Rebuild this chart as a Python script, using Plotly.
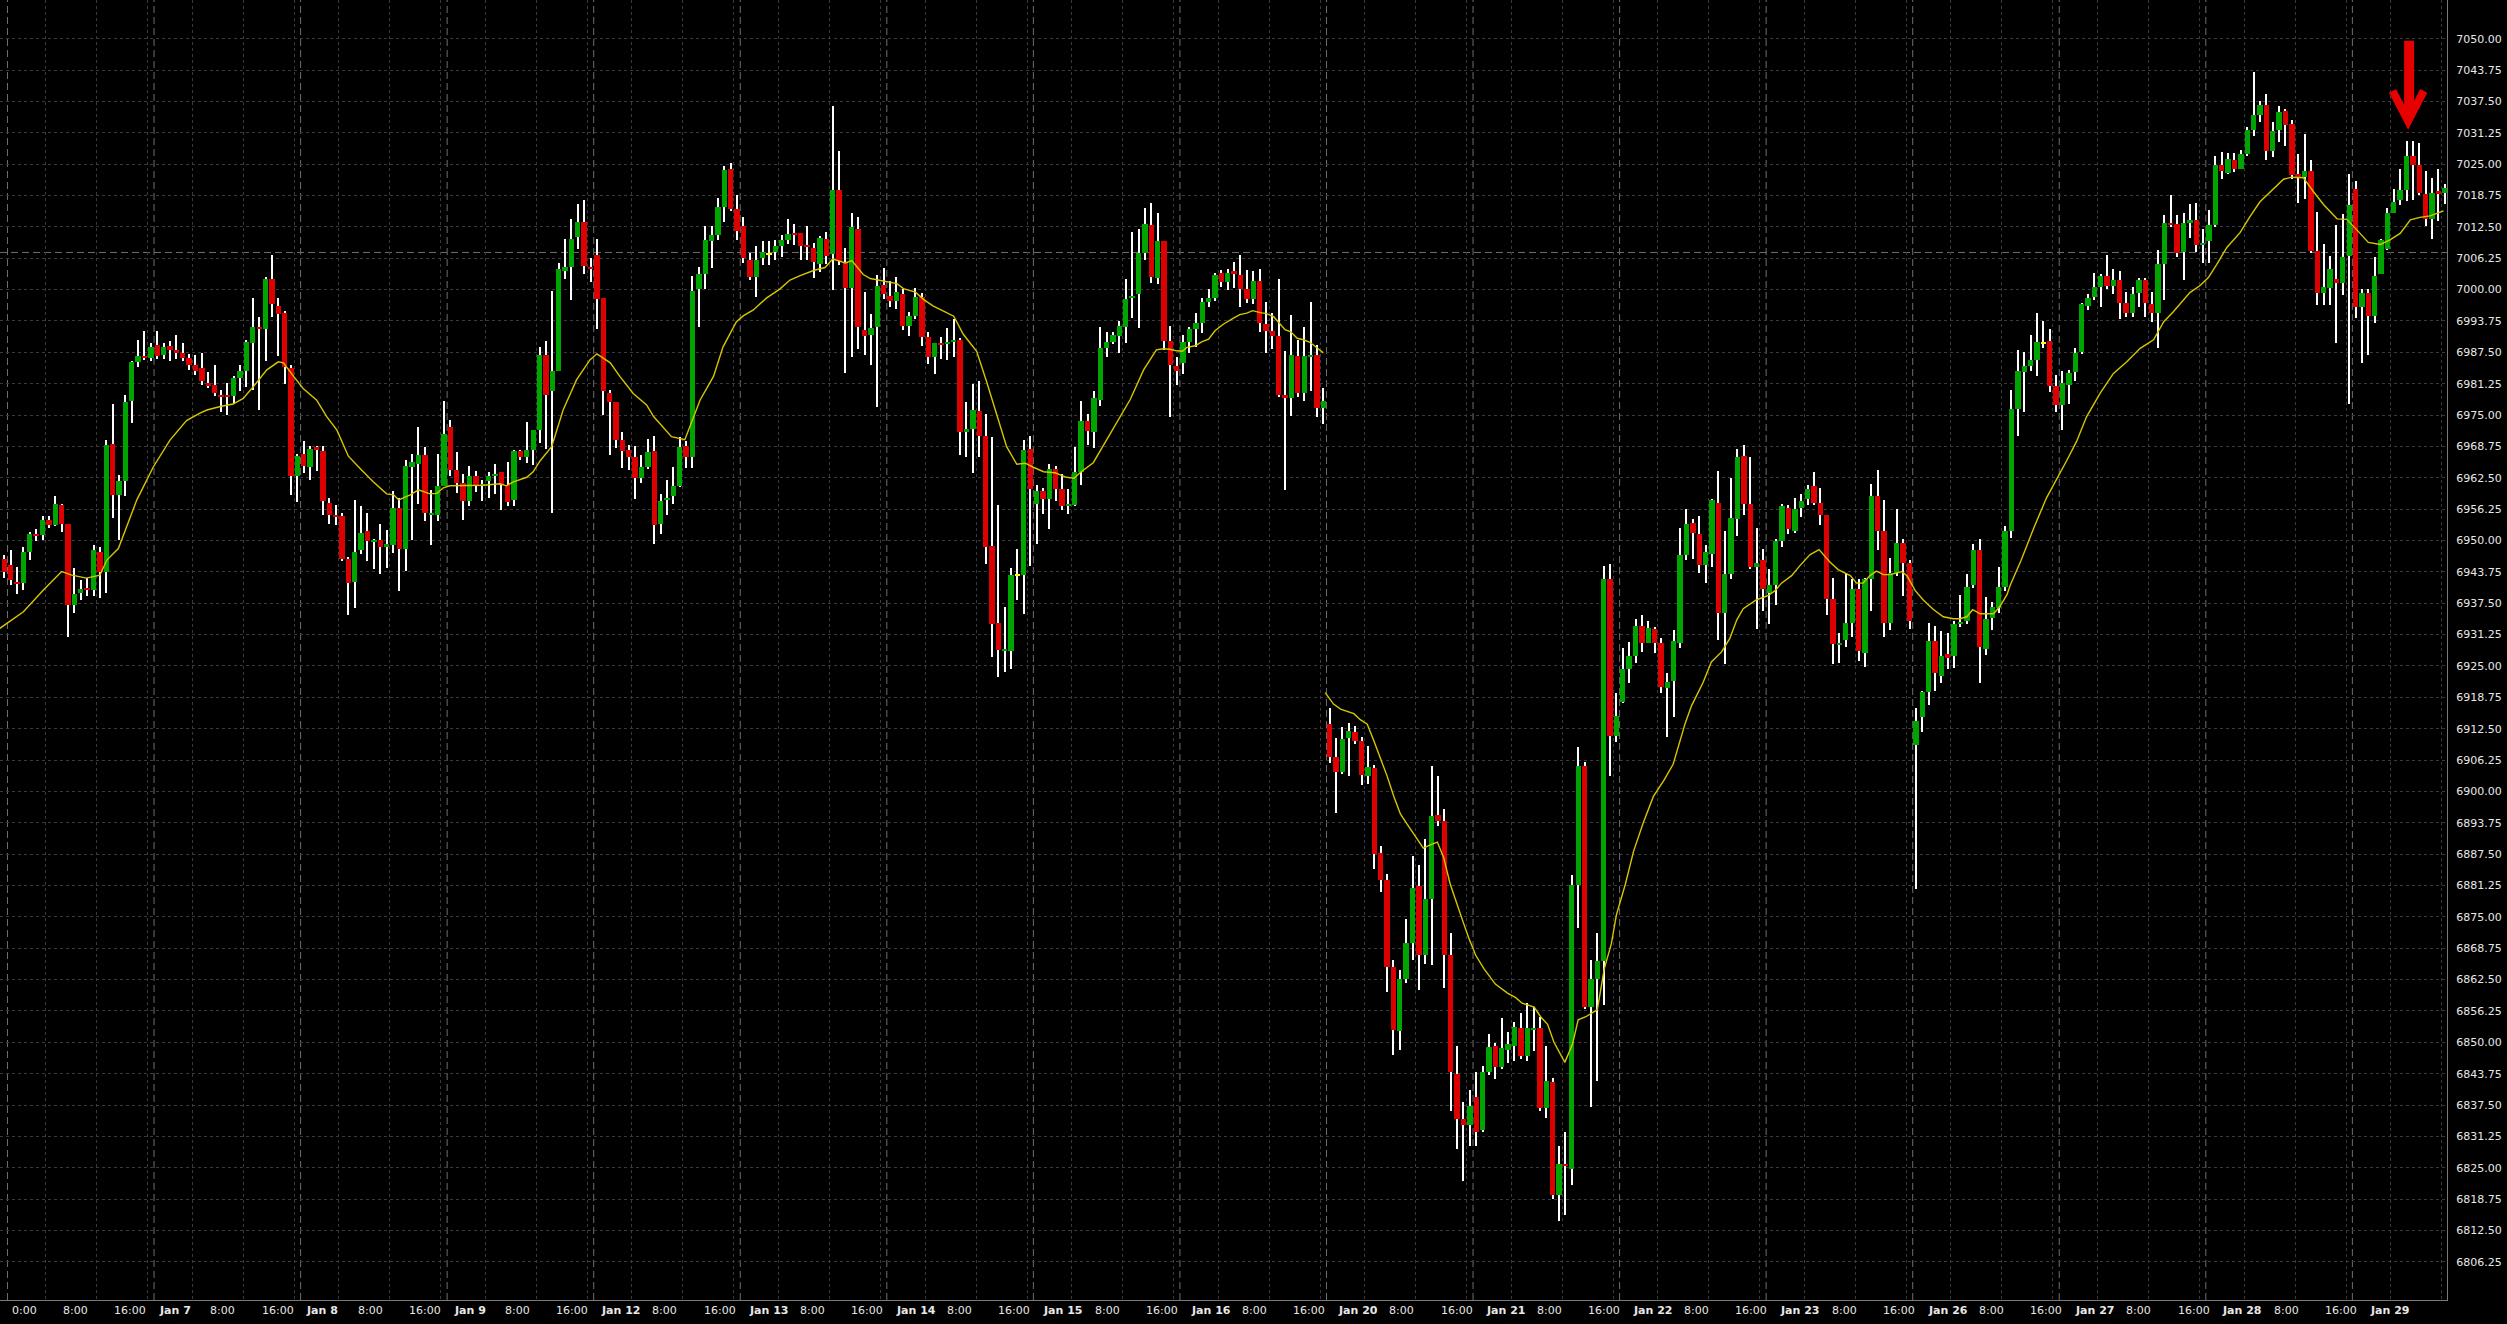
import plotly.graph_objects as go

# ---------------- data (hourly bars) ----------------
OPEN = [
 6946.3, 6945.1, 6941.7, 6941.6, 6947.8, 6951.3, 6951.1, 6954.1, 6953.1, 6957.0,
 6953.3, 6937.1, 6939.5, 6940.6, 6940.2, 6947.7, 6943.8, 6969.2, 6959.1, 6961.9,
 6977.8, 6985.6, 6986.8, 6986.4, 6989.0, 6987.0, 6988.8, 6988.0, 6987.4, 6986.4,
 6985.0, 6984.4, 6981.3, 6981.0, 6979.0, 6978.9, 6978.7, 6982.4, 6983.7, 6989.4,
 6992.5, 6992.2, 7002.1, 6996.7, 6995.3, 6984.4, 6962.9, 6967.2, 6964.7, 6968.6,
 6967.8, 6957.4, 6955.0, 6954.9, 6946.3, 6941.8, 6948.1, 6951.8, 6949.8, 6950.1,
 6948.8, 6949.2, 6956.5, 6948.3, 6964.7, 6965.3, 6967.0, 6955.0, 6955.1, 6960.9,
 6972.6, 6964.1, 6961.4, 6957.9, 6962.9, 6960.9, 6961.9, 6962.9, 6963.7, 6961.1,
 6958.1, 6967.8, 6966.7, 6968.0, 6972.0, 6987.0, 6979.7, 6983.8, 7003.8, 7004.5,
 7010.4, 7013.5, 7004.5, 7006.9, 6998.4, 6979.3, 6977.6, 6970.0, 6968.0, 6966.7,
 6962.5, 6964.7, 6967.9, 6953.3, 6958.1, 6958.9, 6960.9, 6968.9, 6966.7, 7000.1,
 7003.1, 7009.6, 7010.9, 7016.4, 7024.0, 7016.1, 7012.6, 7005.9, 7002.6, 7006.2,
 7007.0, 7007.4, 7008.6, 7009.9, 7011.2, 7011.2, 7008.9, 7008.3, 7005.1, 7010.1,
 7007.0, 7019.8, 7005.5, 7000.4, 7012.1, 6992.0, 6991.0, 6992.5, 7001.0, 6998.7,
 6997.8, 6999.2, 6992.7, 6994.7, 6998.5, 6990.6, 6986.5, 6989.4, 6989.1, 6989.5,
 6990.0, 6971.7, 6972.3, 6975.9, 6970.9, 6949.0, 6933.5, 6927.9, 6928.0, 6943.2,
 6943.1, 6968.2, 6957.3, 6959.9, 6958.3, 6964.2, 6960.3, 6956.9, 6957.1, 6963.7,
 6973.8, 6971.7, 6978.0, 6988.4, 6989.5, 6990.8, 6992.6, 6998.5, 6999.1, 7007.3,
 7012.9, 7002.4, 7009.6, 6989.8, 6984.8, 6985.4, 6989.6, 6992.2, 6993.3, 6997.5,
 6998.3, 7003.3, 7001.5, 7003.7, 7003.0, 7000.2, 6998.1, 7001.7, 6993.2, 6991.7,
 6990.7, 6978.9, 6978.4, 6986.8, 6979.4, 6986.6, 6986.9, 6976.5, 6913.4, 6906.9,
 6903.9, 6910.7, 6911.9, 6910.0, 6903.1, 6904.6, 6887.8, 6882.3, 6865.0, 6852.2,
 6862.7, 6869.8, 6881.2, 6867.4, 6878.6, 6895.3, 6894.1, 6867.4, 6843.6, 6834.7,
 6833.6, 6839.1, 6832.5, 6844.0, 6849.3, 6845.1, 6848.5, 6849.3, 6852.9, 6847.3,
 6852.5, 6852.9, 6836.9, 6842.1, 6819.6, 6825.7, 6824.8, 6881.3, 6905.0, 6857.1,
 6862.7, 6866.3, 6942.4, 6911.0, 6917.9, 6924.4, 6927.0, 6933.0, 6929.6, 6932.4,
 6929.6, 6920.7, 6922.0, 6929.6, 6947.1, 6953.4, 6951.2, 6945.1, 6947.4, 6957.5,
 6935.6, 6943.3, 6954.2, 6966.9, 6957.3, 6944.8, 6946.1, 6939.5, 6941.2, 6949.9,
 6956.5, 6951.9, 6956.5, 6958.3, 6960.8, 6957.4, 6955.1, 6938.3, 6929.1, 6930.1,
 6933.5, 6940.4, 6927.6, 6942.3, 6958.9, 6951.9, 6933.6, 6943.6, 6949.5, 6945.5,
 6909.3, 6914.8, 6919.8, 6929.9, 6923.0, 6927.4, 6926.9, 6933.3, 6934.0, 6941.1,
 6948.1, 6928.4, 6934.6, 6936.5, 6940.7, 6951.9, 6976.2, 6983.6, 6984.8, 6986.0,
 6989.4, 6989.8, 6980.7, 6977.0, 6981.0, 6983.6, 6987.5, 6996.8, 6998.6, 7000.6,
 7002.7, 7000.8, 7002.0, 6997.3, 6995.4, 6999.4, 7002.0, 6997.1, 6995.4, 7005.2,
 7013.2, 7013.0, 7007.4, 7013.3, 7013.9, 7008.9, 7009.6, 7012.9, 7024.8, 7023.3,
 7025.8, 7024.0, 7027.0, 7031.8, 7034.8, 7036.8, 7027.6, 7031.8, 7035.6, 7033.1,
 7023.0, 7022.5, 7023.6, 7007.6, 6999.4, 7000.4, 7002.1, 7001.3, 7006.6, 7020.0,
 6996.5, 6999.3, 6994.8, 7003.2, 7008.0, 7015.3, 7017.9, 7019.9, 7026.6, 7024.8,
 7019.1, 7014.0, 7019.7, 7019.2,
]
HIGH = [
 6947.1, 6948.1, 6944.8, 6948.7, 6951.6, 6952.2, 6954.9, 6954.9, 6958.9, 6957.3,
 6953.3, 6944.5, 6942.1, 6942.6, 6949.2, 6948.8, 6970.0, 6977.3, 6963.1, 6979.0,
 6985.8, 6990.0, 6991.8, 6989.3, 6991.8, 6989.4, 6989.8, 6991.0, 6989.4, 6987.2,
 6987.0, 6987.4, 6983.6, 6985.0, 6980.0, 6981.3, 6982.7, 6985.0, 6990.0, 6998.3,
 6994.5, 7002.6, 7006.9, 6998.3, 6995.7, 6985.0, 6967.2, 6969.9, 6968.8, 6968.8,
 6968.8, 6958.4, 6957.1, 6955.4, 6946.7, 6958.1, 6956.9, 6955.4, 6950.4, 6953.3,
 6952.1, 6959.8, 6958.4, 6966.0, 6967.2, 6972.6, 6968.6, 6960.1, 6967.2, 6977.8,
 6974.0, 6967.6, 6963.3, 6964.9, 6963.9, 6962.1, 6963.7, 6965.3, 6963.7, 6965.7,
 6968.0, 6968.1, 6973.7, 6972.0, 6988.6, 6989.8, 6999.7, 7005.4, 7010.0, 7014.0,
 7017.1, 7017.9, 7006.2, 7010.1, 6998.4, 6980.0, 6977.6, 6971.6, 6969.0, 6968.8,
 6967.1, 6970.2, 6970.8, 6959.3, 6962.1, 6964.7, 6970.6, 6969.9, 7002.7, 7004.6,
 7012.6, 7012.6, 7018.2, 7024.6, 7025.3, 7018.9, 7014.4, 7007.3, 7008.6, 7009.6,
 7009.6, 7009.9, 7010.9, 7014.0, 7013.0, 7011.2, 7012.6, 7009.3, 7010.6, 7011.4,
 7036.6, 7027.7, 7008.3, 7015.2, 7014.4, 6999.5, 6995.2, 7003.0, 7004.3, 7001.7,
 7002.6, 7000.1, 6995.5, 7000.3, 6999.4, 6991.6, 6989.4, 6990.6, 6992.3, 6994.2,
 6990.4, 6977.6, 6981.1, 6981.8, 6975.3, 6970.7, 6957.0, 6936.7, 6944.6, 6948.4,
 6970.0, 6970.8, 6961.1, 6960.4, 6965.3, 6964.9, 6963.3, 6960.3, 6968.7, 6977.8,
 6975.2, 6979.8, 6992.6, 6991.5, 6991.5, 6993.8, 7002.1, 7011.4, 7012.1, 7016.3,
 7017.2, 7015.3, 7009.6, 6992.8, 6986.6, 6991.0, 6992.6, 6995.4, 6998.3, 7000.1,
 7003.3, 7004.0, 7004.2, 7005.5, 7006.9, 7004.0, 7003.7, 7004.2, 6997.5, 6995.4,
 7002.1, 6987.7, 6995.0, 6989.9, 6992.6, 6997.5, 6988.9, 6980.3, 6916.7, 6910.7,
 6912.8, 6913.6, 6913.0, 6910.8, 6909.0, 6905.2, 6889.2, 6883.5, 6866.5, 6864.5,
 6874.5, 6887.1, 6885.3, 6890.5, 6905.0, 6903.0, 6896.5, 6871.8, 6849.3, 6838.2,
 6840.4, 6844.0, 6845.3, 6851.6, 6849.8, 6854.9, 6852.1, 6854.0, 6855.8, 6857.8,
 6857.0, 6855.1, 6849.3, 6842.9, 6829.3, 6832.2, 6883.4, 6908.9, 6905.9, 6866.5,
 6871.8, 6945.0, 6945.3, 6919.7, 6928.5, 6929.8, 6934.4, 6935.1, 6933.9, 6932.7,
 6930.5, 6923.6, 6932.1, 6952.4, 6956.3, 6954.2, 6954.9, 6949.1, 6958.3, 6963.9,
 6951.9, 6962.4, 6968.3, 6969.0, 6966.6, 6952.4, 6948.4, 6944.4, 6950.4, 6957.3,
 6957.1, 6958.5, 6959.3, 6961.0, 6963.6, 6960.4, 6955.1, 6942.6, 6931.6, 6943.6,
 6942.3, 6942.3, 6942.6, 6961.2, 6964.0, 6958.0, 6946.5, 6956.3, 6950.3, 6946.1,
 6916.7, 6920.1, 6933.5, 6932.9, 6932.0, 6931.6, 6934.0, 6939.2, 6943.4, 6949.4,
 6950.3, 6938.8, 6937.8, 6944.8, 6952.9, 6980.0, 6988.0, 6987.6, 6991.0, 6995.4,
 6993.7, 6992.2, 6983.0, 6983.8, 6984.0, 6988.3, 6997.4, 6999.1, 7003.4, 7003.2,
 7006.9, 7004.1, 7003.8, 6999.5, 7000.5, 7002.4, 7002.4, 6999.5, 7007.9, 7014.8,
 7018.9, 7014.8, 7015.3, 7017.1, 7017.3, 7012.0, 7015.9, 7026.6, 7027.5, 7027.3,
 7027.3, 7027.8, 7032.5, 7043.3, 7037.6, 7039.0, 7033.3, 7036.6, 7035.9, 7033.8,
 7027.0, 7031.1, 7025.8, 7015.4, 7009.1, 7006.6, 7012.9, 7015.1, 7023.0, 7021.7,
 7000.1, 7000.1, 7006.4, 7010.0, 7016.2, 7020.1, 7024.0, 7029.6, 7029.7, 7029.3,
 7023.7, 7022.3, 7024.0, 7021.1,
]
LOW = [
 6942.5, 6941.1, 6939.3, 6940.1, 6946.2, 6950.0, 6950.2, 6952.4, 6952.8, 6951.7,
 6930.8, 6935.6, 6938.1, 6938.9, 6939.0, 6938.6, 6939.6, 6954.4, 6950.1, 6958.9,
 6973.5, 6984.6, 6986.0, 6985.8, 6986.2, 6986.2, 6985.8, 6986.2, 6985.8, 6983.9,
 6983.0, 6980.9, 6980.3, 6978.7, 6975.7, 6975.0, 6977.2, 6979.8, 6980.5, 6980.0,
 6976.0, 6985.8, 6994.5, 6986.8, 6981.2, 6959.1, 6957.7, 6963.5, 6962.1, 6963.9,
 6955.1, 6953.3, 6953.1, 6945.9, 6935.2, 6936.6, 6947.3, 6945.9, 6944.4, 6943.4,
 6944.6, 6947.6, 6940.0, 6944.0, 6950.1, 6957.3, 6953.8, 6949.1, 6953.8, 6960.8,
 6962.9, 6959.4, 6954.1, 6956.8, 6959.7, 6957.8, 6958.4, 6959.3, 6956.1, 6956.8,
 6956.8, 6966.1, 6965.5, 6965.1, 6969.5, 6968.2, 6955.4, 6983.7, 7002.1, 6997.9,
 7008.1, 7003.1, 7001.6, 6992.1, 6975.1, 6967.0, 6968.5, 6964.5, 6964.1, 6958.2,
 6961.4, 6964.2, 6949.3, 6951.3, 6955.1, 6957.3, 6960.7, 6964.5, 6964.5, 6992.6,
 7000.1, 7004.4, 7009.8, 7013.4, 7015.7, 7009.8, 7005.4, 7001.9, 6998.6, 7004.9,
 7004.9, 7005.9, 7006.5, 7009.1, 7008.9, 7005.8, 7005.8, 7002.4, 7003.6, 7005.1,
 7000.0, 7004.9, 6983.3, 6986.5, 6988.2, 6986.9, 6984.9, 6976.7, 6998.2, 6996.5,
 6996.1, 6991.9, 6990.8, 6994.2, 6988.8, 6985.2, 6983.2, 6986.2, 6985.9, 6986.6,
 6967.1, 6966.6, 6963.5, 6966.7, 6945.4, 6926.7, 6922.9, 6923.7, 6924.4, 6938.1,
 6935.4, 6944.9, 6949.3, 6955.3, 6952.3, 6957.9, 6956.0, 6955.3, 6956.8, 6961.1,
 6969.0, 6968.5, 6976.8, 6986.6, 6989.2, 6987.3, 6989.3, 6994.4, 6992.3, 7005.9,
 7001.4, 7001.1, 6988.0, 6974.7, 6980.9, 6983.2, 6987.4, 6988.6, 6991.4, 6996.6,
 6997.7, 7000.6, 7000.0, 7000.4, 6996.6, 6997.3, 6997.1, 6991.6, 6987.4, 6988.2,
 6978.6, 6960.1, 6974.8, 6978.6, 6977.8, 6979.8, 6974.7, 6973.3, 6905.6, 6895.7,
 6903.5, 6903.1, 6909.4, 6901.2, 6901.4, 6884.5, 6880.0, 6860.0, 6847.5, 6848.5,
 6861.8, 6866.5, 6860.5, 6865.6, 6865.4, 6893.2, 6860.9, 6836.4, 6828.7, 6822.4,
 6829.3, 6829.4, 6832.2, 6843.5, 6842.7, 6844.7, 6845.8, 6846.2, 6846.7, 6846.3,
 6848.2, 6836.4, 6834.9, 6818.7, 6814.4, 6815.6, 6821.5, 6872.7, 6856.7, 6837.1,
 6842.3, 6857.4, 6903.1, 6909.8, 6917.6, 6921.7, 6925.5, 6927.8, 6929.5, 6927.5,
 6919.7, 6910.8, 6914.8, 6928.6, 6946.1, 6946.3, 6943.6, 6941.5, 6944.8, 6930.1,
 6925.3, 6942.3, 6950.9, 6955.0, 6944.4, 6932.4, 6935.9, 6933.4, 6937.1, 6948.8,
 6951.2, 6951.4, 6954.7, 6957.0, 6957.1, 6953.1, 6935.2, 6925.3, 6925.6, 6928.8,
 6930.8, 6925.9, 6924.7, 6936.0, 6948.1, 6930.8, 6932.2, 6943.0, 6939.0, 6932.3,
 6880.5, 6911.8, 6917.2, 6920.1, 6921.7, 6924.3, 6924.6, 6932.7, 6933.3, 6940.6,
 6921.7, 6927.2, 6932.2, 6935.5, 6940.0, 6950.5, 6970.9, 6975.7, 6983.8, 6982.7,
 6988.3, 6979.5, 6975.7, 6972.0, 6977.2, 6981.7, 6987.2, 6995.9, 6997.9, 6996.6,
 7000.1, 6999.1, 6994.2, 6994.6, 6994.6, 6996.6, 6994.5, 6993.6, 6988.3, 6997.9,
 7012.4, 7006.4, 7001.9, 7010.2, 7007.4, 7005.4, 7005.4, 7012.4, 7022.1, 7023.0,
 7023.5, 7024.0, 7026.6, 7030.6, 7033.3, 7025.8, 7026.4, 7029.5, 7028.6, 7022.0,
 7017.3, 7018.0, 7007.2, 6996.9, 6996.9, 6996.9, 6989.4, 6998.9, 6977.3, 6994.3,
 6985.4, 6987.0, 6993.4, 7003.2, 7007.8, 7015.2, 7016.9, 7017.7, 7017.9, 7018.9,
 7012.7, 7010.1, 7013.7, 7017.0,
]
CLOSE = [
 6943.8, 6942.2, 6941.4, 6947.7, 6951.3, 6951.0, 6954.1, 6953.1, 6957.3, 6953.3,
 6937.1, 6939.3, 6940.3, 6940.2, 6948.1, 6943.8, 6969.0, 6959.1, 6961.9, 6977.7,
 6985.6, 6986.8, 6986.4, 6988.6, 6986.8, 6988.5, 6988.0, 6987.3, 6986.4, 6985.0,
 6983.8, 6981.7, 6980.8, 6979.4, 6978.7, 6978.5, 6982.4, 6983.8, 6989.6, 6992.5,
 6992.2, 7002.1, 6997.2, 6995.2, 6984.6, 6962.9, 6966.8, 6964.9, 6968.2, 6968.0,
 6957.9, 6955.0, 6954.6, 6946.3, 6941.6, 6947.7, 6951.4, 6950.0, 6950.2, 6948.8,
 6949.3, 6956.5, 6948.3, 6964.8, 6965.7, 6967.0, 6955.4, 6955.4, 6960.9, 6971.2,
 6964.1, 6961.4, 6957.9, 6962.9, 6960.9, 6961.3, 6962.9, 6963.3, 6961.1, 6957.6,
 6967.8, 6966.7, 6968.0, 6972.0, 6987.0, 6979.0, 6983.8, 7004.1, 7004.5, 7010.0,
 7013.5, 7004.8, 7004.2, 6998.2, 6979.7, 6977.7, 6970.0, 6967.9, 6966.7, 6962.5,
 6964.7, 6967.7, 6953.1, 6957.9, 6958.5, 6960.9, 6968.7, 6966.7, 6999.7, 7003.1,
 7009.9, 7010.9, 7016.4, 7023.8, 7016.1, 7011.6, 7006.2, 7002.6, 7005.9, 7007.4,
 7007.0, 7008.6, 7009.9, 7011.1, 7011.0, 7008.6, 7008.6, 7005.5, 7010.2, 7006.6,
 7019.9, 7005.7, 7000.4, 7012.5, 6992.5, 6990.8, 6992.3, 7000.7, 6999.2, 6997.8,
 6999.5, 6992.7, 6994.7, 6998.5, 6990.6, 6986.5, 6989.4, 6989.1, 6989.5, 6990.0,
 6971.7, 6972.3, 6976.0, 6970.9, 6948.8, 6933.4, 6928.1, 6928.3, 6943.1, 6943.2,
 6968.0, 6960.3, 6959.9, 6958.3, 6964.2, 6960.3, 6956.9, 6957.1, 6963.7, 6973.8,
 6971.8, 6978.3, 6988.4, 6989.5, 6991.0, 6992.8, 6998.1, 6998.7, 7007.3, 7013.1,
 7002.5, 7009.6, 6989.8, 6985.0, 6983.7, 6989.6, 6992.2, 6993.3, 6997.5, 6998.3,
 7003.0, 7001.5, 7003.4, 7003.2, 7000.2, 6998.1, 7001.7, 6993.3, 6991.7, 6990.8,
 6978.9, 6978.4, 6986.9, 6979.4, 6986.8, 6987.0, 6976.5, 6977.9, 6906.9, 6903.8,
 6910.4, 6912.1, 6910.0, 6903.3, 6904.8, 6887.5, 6882.3, 6865.0, 6852.5, 6862.7,
 6869.8, 6880.7, 6867.4, 6878.6, 6895.1, 6894.1, 6867.4, 6844.0, 6834.7, 6833.6,
 6837.4, 6832.2, 6844.0, 6849.1, 6845.1, 6848.9, 6849.6, 6853.1, 6847.3, 6852.9,
 6852.9, 6836.9, 6842.3, 6819.6, 6825.7, 6825.3, 6881.3, 6905.0, 6857.1, 6862.7,
 6866.3, 6942.4, 6911.0, 6915.1, 6924.4, 6927.0, 6933.0, 6929.6, 6932.6, 6929.6,
 6920.9, 6921.9, 6930.0, 6947.1, 6953.2, 6951.4, 6945.1, 6947.8, 6958.0, 6935.6,
 6943.3, 6954.4, 6966.7, 6957.3, 6944.8, 6945.6, 6940.3, 6941.2, 6949.9, 6956.8,
 6952.2, 6956.3, 6957.8, 6960.3, 6957.5, 6955.1, 6938.3, 6929.4, 6929.6, 6933.5,
 6940.4, 6927.9, 6942.3, 6958.9, 6951.9, 6933.6, 6943.6, 6949.5, 6945.5, 6934.0,
 6914.0, 6919.8, 6929.9, 6923.6, 6927.0, 6926.6, 6933.3, 6933.7, 6940.7, 6948.1,
 6928.7, 6934.3, 6936.8, 6940.7, 6951.9, 6976.2, 6983.8, 6984.8, 6986.0, 6989.6,
 6989.4, 6980.7, 6977.0, 6981.3, 6983.3, 6987.3, 6997.1, 6998.3, 7000.5, 7002.7,
 7000.8, 7002.0, 6997.4, 6995.4, 6999.1, 7002.0, 6997.4, 6995.4, 7005.2, 7013.2,
 7012.9, 7007.2, 7013.2, 7013.9, 7008.9, 7009.2, 7012.9, 7024.8, 7023.7, 7026.0,
 7024.0, 7027.0, 7031.8, 7034.8, 7036.8, 7027.6, 7031.6, 7035.3, 7032.8, 7022.8,
 7022.5, 7023.6, 7007.6, 6999.4, 7000.6, 7004.1, 7001.3, 7006.4, 7016.9, 6996.5,
 6999.3, 6994.8, 7002.7, 7009.9, 7015.3, 7017.5, 7019.9, 7026.6, 7024.8, 7019.3,
 7014.0, 7019.2, 7019.0, 7020.3,
]

# moving average line (yellow), read as (bar position, value); two segments
MA1_X = [-0.7, 3.0, 6.1, 9.0, 10.6, 12.9, 15.0, 16.1, 17.9, 20.8, 23.4, 26.0, 28.6, 30.7, 31.8,
         33.9, 35.9, 37.5, 39.1, 41.2, 43.0, 43.8, 45.4, 46.9, 49.0, 50.6, 52.2, 54.0, 55.8,
         57.9, 60.0, 61.1, 61.9, 63.7, 65.0, 66.8, 67.9, 68.9, 69.9, 72.6, 75.2, 77.8, 78.8,
         79.9, 82.0, 83.0, 84.1, 85.9, 87.7, 89.8, 91.9, 93.0, 95.1, 96.6, 98.7, 100.8, 101.9,
         104.7, 106.8, 109.2, 111.3, 112.8, 114.9, 116.0, 117.5, 119.6, 121.7, 123.3, 124.9,
         127.0, 128.8, 130.0, 132.0, 133.0, 134.8, 135.9, 138.0, 140.1, 141.1, 143.0, 144.3,
         145.8, 147.4, 149.0, 150.5, 152.6, 154.2, 156.3, 157.3, 158.9, 160.2, 161.5, 163.1,
         164.9, 166.7, 167.9, 168.8, 170.9, 173.0, 174.8, 176.7, 178.8, 180.8, 181.9, 182.9,
         184.0, 184.9, 185.6, 186.9, 187.9, 189.0, 190.0, 191.3, 192.9, 193.9, 195.0, 195.9,
         197.1, 198.1, 199.2, 200.2, 201.0, 201.9, 202.9, 203.9, 204.9, 206.0, 207.0]
MA1_Y = [6932.5, 6935.8, 6940.1, 6943.8, 6943.1, 6942.5, 6943.1, 6946.1, 6948.4, 6958.1, 6964.7,
         6970.0, 6973.9, 6975.4, 6976.0, 6976.7, 6977.2, 6978.3, 6980.7, 6984.0, 6985.6, 6985.4,
         6982.7, 6980.3, 6978.0, 6974.7, 6972.0, 6966.8, 6964.4, 6961.7, 6959.3, 6959.1, 6958.1,
         6959.1, 6960.1, 6959.3, 6959.4, 6960.5, 6960.9, 6960.9, 6961.0, 6961.3, 6960.9, 6961.7,
         6962.6, 6963.7, 6965.9, 6968.7, 6976.0, 6982.0, 6986.0, 6987.2, 6985.4, 6982.7, 6979.3,
         6977.0, 6974.7, 6970.7, 6970.1, 6978.0, 6982.7, 6988.6, 6993.6, 6994.8, 6995.9, 6998.3,
         7000.1, 7001.9, 7002.8, 7003.8, 7004.4, 7006.1, 7005.3, 7005.8, 7003.0, 7002.2, 7001.7,
         7001.2, 7000.2, 6999.5, 6998.0, 6996.7, 6995.7, 6994.7, 6991.1, 6987.7, 6981.5, 6972.6,
         6968.7, 6965.2, 6965.4, 6964.6, 6963.7, 6963.5, 6962.6, 6962.4, 6963.5, 6965.5, 6970.0,
         6974.0, 6978.1, 6984.0, 6988.0, 6988.2, 6988.1, 6987.8, 6987.7, 6988.5, 6988.8, 6989.6,
         6990.1, 6991.8, 6993.1, 6994.3, 6995.0, 6995.3, 6995.8, 6995.4, 6995.2, 6994.6, 6993.2,
         6992.0, 6991.6, 6990.3, 6990.0, 6989.5, 6988.4, 6987.4]
MA2_X = [207.3, 208.6, 209.7, 211.8, 212.8, 213.9, 214.9, 216.0, 217.0, 218.1, 219.1, 220.1, 221.1,
         222.7, 223.7, 224.9, 225.9, 226.9, 228.8, 229.8, 230.9, 232.2, 234.0, 235.9, 237.2,
         238.2, 240.1, 241.1, 242.2, 243.2, 244.9, 246.1, 247.0, 248.2, 250.0, 251.1, 252.2,
         253.0, 254.4, 255.7, 257.2, 258.8, 260.4, 261.9, 263.8, 264.8, 266.6, 267.9, 269.5,
         270.8, 271.9, 272.9, 275.0, 276.8, 277.9, 278.9, 280.5, 281.8, 283.4, 284.8, 286.5,
         287.8, 289.7, 290.7, 291.7, 292.8, 293.8, 294.9, 296.0, 297.0, 297.8, 298.6, 299.9,
         301.2, 302.7, 304.3, 305.9, 306.9, 308.0, 308.9, 310.1, 312.2, 313.2, 314.3, 314.8,
         316.5, 318.5, 320.5, 322.5, 323.7, 325.2, 326.8, 328.9, 331.0, 333.1, 335.2, 337.3,
         338.9, 340.4, 343.0, 344.6, 345.9, 347.2, 348.8, 350.9, 352.4, 354.0, 355.8, 357.7,
         359.0, 360.8, 362.4, 364.0, 366.1, 367.6, 369.2, 371.0, 372.9, 374.4, 376.0, 377.6,
         379.1, 380.7, 382.8]
MA2_Y = [6919.7, 6917.4, 6916.4, 6915.5, 6914.3, 6913.4, 6910.2, 6906.6, 6903.1, 6898.9, 6895.5,
         6893.6, 6891.8, 6888.7, 6889.3, 6889.9, 6886.8, 6881.6, 6874.5, 6870.9, 6867.4, 6864.7,
         6861.6, 6859.8, 6858.9, 6857.8, 6857.0, 6855.1, 6853.6, 6850.0, 6846.0, 6849.6, 6854.5,
         6855.1, 6856.5, 6864.7, 6869.6, 6875.4, 6881.5, 6888.1, 6893.7, 6899.0, 6902.1, 6905.4,
         6913.6, 6917.1, 6921.7, 6925.8, 6927.8, 6930.5, 6934.2, 6936.4, 6938.2, 6939.0, 6940.0,
         6941.5, 6943.0, 6945.0, 6947.2, 6948.2, 6945.7, 6944.2, 6943.0, 6941.5, 6941.5, 6943.0,
         6943.9, 6943.2, 6943.2, 6943.6, 6943.8, 6943.0, 6940.0, 6938.1, 6936.3, 6934.8, 6934.4,
         6934.4, 6934.8, 6936.2, 6935.4, 6935.4, 6936.9, 6939.2, 6941.1, 6946.0, 6952.5, 6958.5,
         6963.0, 6966.0, 6969.7, 6974.7, 6979.3, 6983.3, 6985.6, 6988.3, 6990.0, 6993.6, 6995.6,
         6999.4, 7000.8, 7002.4, 7005.0, 7008.4, 7011.4, 7014.5, 7017.5, 7019.7, 7022.0, 7022.4,
         7022.3, 7019.5, 7016.9, 7014.1, 7014.0, 7011.9, 7009.4, 7009.0, 7009.9, 7011.2, 7013.9,
         7014.4, 7014.7, 7015.7]

DAY_LABELS = ["0:00", "Jan 7", "Jan 8", "Jan 9", "Jan 12", "Jan 13", "Jan 14", "Jan 15", "Jan 16",
              "Jan 20", "Jan 21", "Jan 22", "Jan 23", "Jan 26", "Jan 27", "Jan 28", "Jan 29"]
HOUR_LABELS = ["8:00", "16:00"]
REF_PRICE = 7007.4          # dashed horizontal price line
Y_TICK_BOTTOM, Y_TICK_STEP, Y_TICK_COUNT = 6806.25, 6.25, 40

# ---------------- styling ----------------
BARS_PER_DAY = 23
LABEL_DAY_STEP = 23.13      # time-scale label spacing (in bars) as drawn in the reference
UP, DOWN, DOJI = "#00a400", "#dc0000", "#ffff00"
GRID = "#3a3a3a"
SEP = "#6e6e6e"
TXT = "#e8e8e8"
FONT = "DejaVu Sans"

n = len(OPEN)
xs = list(range(n))

body_base, body_h, body_col = [], [], []
for o, c in zip(OPEN, CLOSE):
    lo, hi = min(o, c), max(o, c)
    if hi - lo < 0.4:
        m = (lo + hi) / 2
        lo, hi = m - 0.2, m + 0.2
    body_base.append(lo)
    body_h.append(hi - lo)
    body_col.append(DOJI if o == c else (UP if c > o else DOWN))

fig = go.Figure()
# wicks
fig.add_trace(go.Bar(x=xs, y=[h - l for h, l in zip(HIGH, LOW)], base=LOW, width=0.16,
                     marker=dict(color="#ffffff", opacity=0.999, line=dict(width=0)),
                     hoverinfo="skip", showlegend=False))
# bodies
fig.add_trace(go.Bar(x=xs, y=body_h, base=body_base, width=0.84,
                     marker=dict(color=body_col, line=dict(width=0)),
                     hoverinfo="skip", showlegend=False))
# moving average
fig.add_trace(go.Scatter(x=MA1_X + [None] + MA2_X, y=MA1_Y + [None] + MA2_Y, mode="lines",
                         line=dict(color="#d6c600", width=1.4), connectgaps=False,
                         hoverinfo="skip", showlegend=False))

ndays = len(DAY_LABELS)
x_min, x_max = -0.675, 383.35
grid_x = []
shapes = []
annotations = []
for k in range(ndays):
    d0 = 0.5 + BARS_PER_DAY * k
    for off in (6, 14, 22):
        if d0 + off <= x_max:
            grid_x.append(d0 + off)
    shapes.append(dict(type="line", xref="x", yref="paper", x0=d0, x1=d0, y0=0, y1=1,
                       line=dict(color=SEP, width=1, dash="7px,4px"), layer="below"))
    lx = 23.5 + LABEL_DAY_STEP * (k - 1)
    lab = DAY_LABELS[k]
    txt = lab if k == 0 else "<b>%s</b>" % lab
    annotations.append(dict(x=lx, y=0, xref="x", yref="paper", text=txt, showarrow=False,
                             xanchor="left", yanchor="top", xshift=3, yshift=-2,
                             font=dict(family=FONT, size=11, color=TXT)))
    if k < ndays - 1:
        for j, hl in enumerate(HOUR_LABELS):
            hx = lx + LABEL_DAY_STEP * 8 * (j + 1) / BARS_PER_DAY
            annotations.append(dict(x=hx, y=0, xref="x", yref="paper", text=hl, showarrow=False,
                                    xanchor="left", yanchor="top", xshift=3, yshift=-2,
                                    font=dict(family=FONT, size=11, color=TXT)))

shapes.append(dict(type="line", xref="paper", yref="y", x0=0, x1=1, y0=REF_PRICE, y1=REF_PRICE,
                   line=dict(color=SEP, width=1, dash="7px,4px"), layer="below"))
# red arrow marker
shapes.append(dict(type="line", xref="x", yref="y", x0=377.4, x1=377.4, y0=7049.6, y1=7035.0,
                   line=dict(color="#e60000", width=10)))
shapes.append(dict(type="path", xref="x", yref="y",
                   path="M 374.8,7039.6 L 377.25,7033.6 L 379.7,7039.6",
                   line=dict(color="#e60000", width=8)))

y_ticks = [Y_TICK_BOTTOM + Y_TICK_STEP * i for i in range(Y_TICK_COUNT)]

fig.update_layout(
    width=2507, height=1324,
    margin=dict(l=0, r=60, t=0, b=24),
    paper_bgcolor="#000000", plot_bgcolor="#000000",
    barmode="overlay", bargap=0, bargroupgap=0,
    showlegend=False, hovermode=False,
    shapes=shapes, annotations=annotations,
    xaxis=dict(range=[x_min, x_max], tickmode="array", tickvals=grid_x, showticklabels=False,
               ticks="", showgrid=True, gridcolor=GRID, griddash="3px,3px", gridwidth=1,
               zeroline=False, showline=True, linecolor="#7a7a7a", linewidth=1, fixedrange=True),
    yaxis=dict(range=[6798.65, 7057.71], side="right", tickmode="array", tickvals=y_ticks,
               ticktext=["%.2f" % v for v in y_ticks], showgrid=True, gridcolor=GRID,
               griddash="3px,3px", gridwidth=1, zeroline=False, showline=True,
               linecolor="#7a7a7a", linewidth=1, ticks="", ticklabelstandoff=6,
               tickfont=dict(family=FONT, size=11, color=TXT), fixedrange=True),
)

fig.write_html("out.html", config={"displayModeBar": False},
               post_script="document.body.style.margin='0';document.body.style.overflow='hidden';")
